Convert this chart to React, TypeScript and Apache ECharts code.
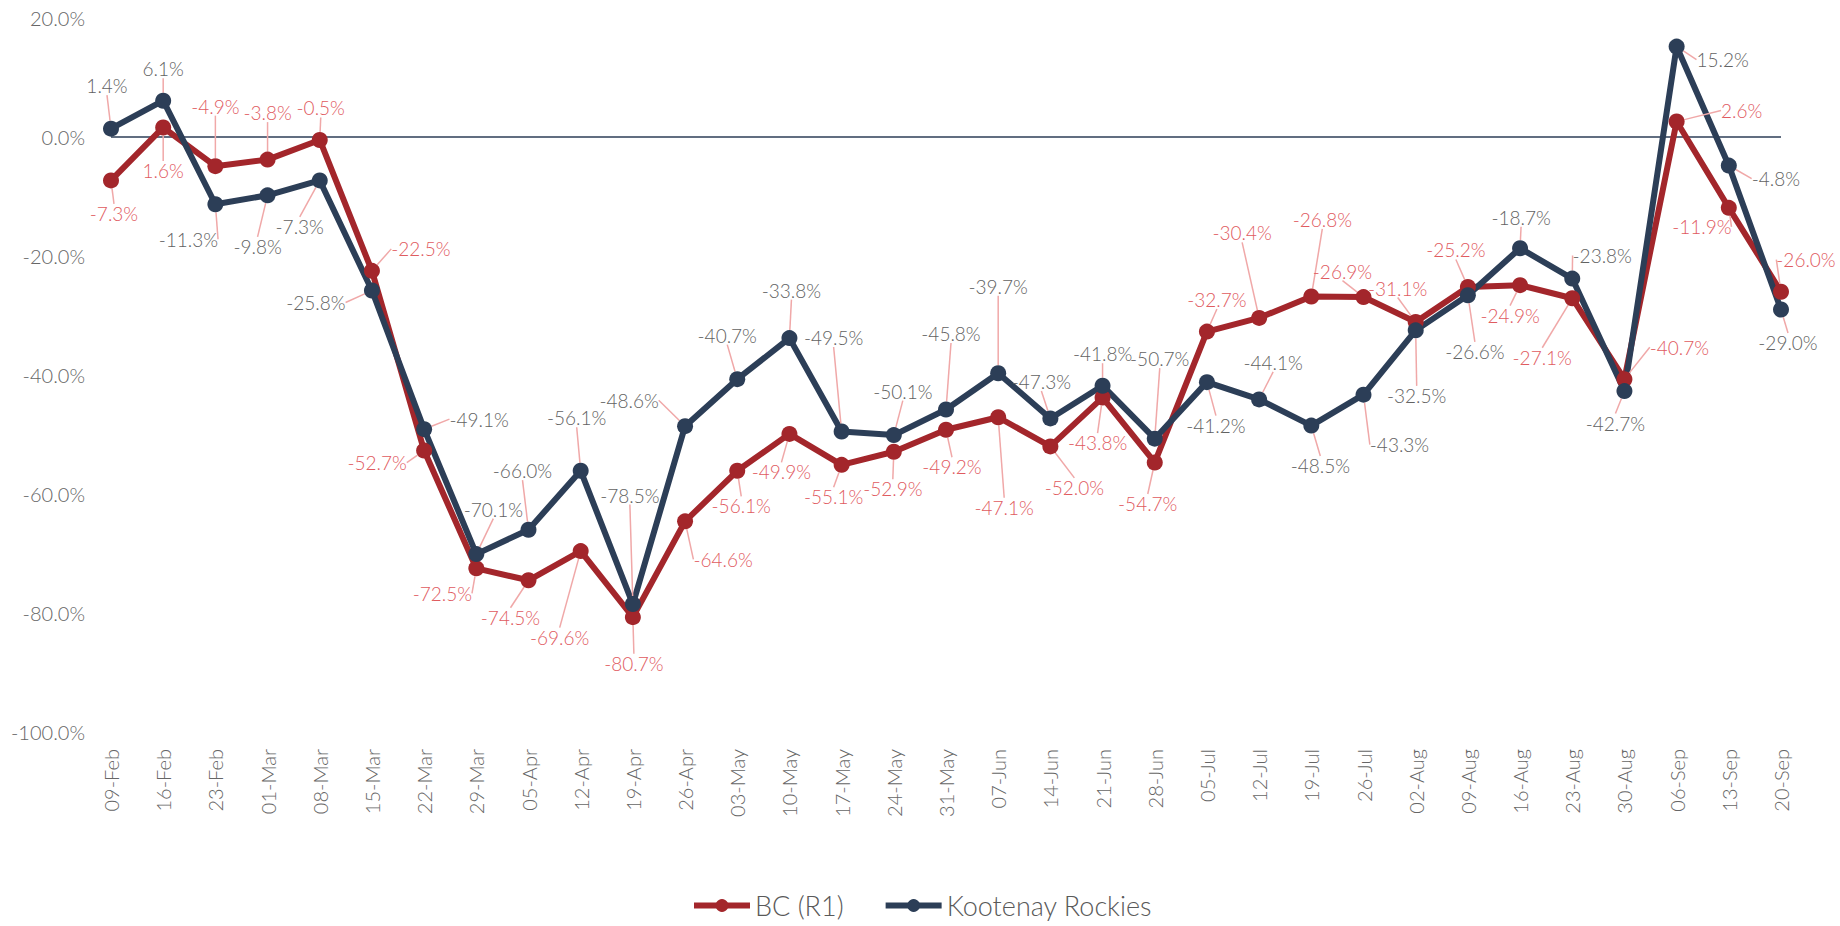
import React, { useEffect, useRef } from "react";
import * as echarts from "echarts";

const categories = [
  "09-Feb", "16-Feb", "23-Feb", "01-Mar", "08-Mar", "15-Mar", "22-Mar", "29-Mar",
  "05-Apr", "12-Apr", "19-Apr", "26-Apr", "03-May", "10-May", "17-May", "24-May",
  "31-May", "07-Jun", "14-Jun", "21-Jun", "28-Jun", "05-Jul", "12-Jul", "19-Jul",
  "26-Jul", "02-Aug", "09-Aug", "16-Aug", "23-Aug", "30-Aug", "06-Sep", "13-Sep", "20-Sep",
];

const bcValues = [
  -7.3, 1.6, -4.9, -3.8, -0.5, -22.5, -52.7, -72.5,
  -74.5, -69.6, -80.7, -64.6, -56.1, -49.9, -55.1, -52.9,
  -49.2, -47.1, -52.0, -43.8, -54.7, -32.7, -30.4, -26.8,
  -26.9, -31.1, -25.2, -24.9, -27.1, -40.7, 2.6, -11.9, -26.0,
];

const krValues = [
  1.4, 6.1, -11.3, -9.8, -7.3, -25.8, -49.1, -70.1,
  -66.0, -56.1, -78.5, -48.6, -40.7, -33.8, -49.5, -50.1,
  -45.8, -39.7, -47.3, -41.8, -50.7, -41.2, -44.1, -48.5,
  -43.3, -32.5, -26.6, -18.7, -23.8, -42.7, 15.2, -4.8, -29.0,
];

const yTicks = { min: -100, max: 20, interval: 20 };

// label placement (layout only): offset of label centre from its point, px
const bcLabelOffsets: [number, number][] = [
  [3, 33], [0, 43], [0, -60], [0, -47], [1, -32], [49, -22], [-47, 12], [-34, 25],
  [-18, 37], [-21, 86], [1, 46], [38, 38], [4, 35], [-8, 38], [-8, 32], [-1, 37],
  [6, 37], [6, 90], [24, 41], [-5, 45], [-7, 41], [10, -32], [-17, -85], [11, -77],
  [-21, -26], [-18, -34], [-12, -37], [-10, 30], [-30, 59], [55, -32], [65, -11], [-27, 19], [25, -32],
];

const krLabelOffsets: [number, number][] = [
  [-4, -43], [0, -32], [-27, 35], [-10, 51], [-20, 46], [-56, 12], [55, -10], [17, -45],
  [-6, -59], [-4, -53], [-3, -109], [-56, -26], [-10, -44], [2, -48], [-8, -94], [9, -44],
  [5, -76], [0, -87], [-9, -37], [0, -32], [5, -80], [9, 43], [14, -37], [9, 40],
  [36, 50], [1, 65], [7, 56], [1, -31], [30, -23], [-9, 32], [46, 13], [47, 13], [7, 33],
];

const RED = "#A3262B";
const NAVY = "#2C3E57";
const RED_TEXT = "#DF5B5F";
const GRAY_TEXT = "#626262";
const AXIS_TEXT = "#666666";
const LEADER = "#F0A8A8";
const FONT = "Lato, 'Open Sans', sans-serif";

export default function App() {
  const ref = useRef<HTMLDivElement>(null);

  useEffect(() => {
    if (!ref.current) return;
    const chart = echarts.init(ref.current, null, { renderer: "svg" });

    const pct = (v: number) => v.toFixed(1) + "%";

    const makeSeries = (
      name: string,
      values: number[],
      color: string,
      textColor: string,
      offsets: [number, number][],
      withZeroLine: boolean
    ) => ({
      name,
      type: "line",
      data: values,
      symbol: "circle",
      symbolSize: 16,
      lineStyle: { color, width: 6 },
      itemStyle: { color },
      label: {
        show: true,
        position: "inside",
        formatter: (p: any) => pct(p.value),
        color: textColor,
        fontFamily: FONT,
        fontWeight: 300,
        fontSize: 19,
      },
      labelLine: {
        show: true,
        lineStyle: { color: LEADER, width: 1.5 },
      },
      labelLayout: (params: any) => {
        const o = offsets[params.dataIndex] || [0, 0];
        return { dx: o[0], dy: o[1], hideOverlap: false };
      },
      markLine: withZeroLine
        ? {
            silent: true,
            symbol: "none",
            label: { show: false },
            lineStyle: { color: NAVY, width: 1.5, type: "solid" },
            data: [{ yAxis: 0 }],
            z: 1,
          }
        : undefined,
    });

    chart.setOption({
      animation: false,
      backgroundColor: "#ffffff",
      grid: { left: 111, right: 59, top: 18, bottom: 194, containLabel: false },
      legend: {
        data: ["BC (R1)", "Kootenay Rockies"],
        left: 686,
        top: 887,
        itemWidth: 56,
        itemHeight: 16,
        itemGap: 39,
        lineStyle: { width: 6 },
        textStyle: {
          color: "#595959",
          fontFamily: FONT,
          fontWeight: 300,
          fontSize: 27,
        },
      },
      xAxis: {
        type: "category",
        data: categories,
        boundaryGap: false,
        axisLine: { show: false },
        axisTick: { show: false },
        splitLine: { show: false },
        axisLabel: {
          rotate: 90,
          margin: 17,
          interval: 0,
          color: AXIS_TEXT,
          fontFamily: FONT,
          fontWeight: 300,
          fontSize: 20,
        },
      },
      yAxis: {
        type: "value",
        min: yTicks.min,
        max: yTicks.max,
        interval: yTicks.interval,
        axisLine: { show: false },
        axisTick: { show: false },
        splitLine: { show: false },
        axisLabel: {
          margin: 26,
          color: AXIS_TEXT,
          fontFamily: FONT,
          fontWeight: 300,
          fontSize: 20,
          formatter: (v: number) => pct(v),
        },
      },
      series: [
        makeSeries("BC (R1)", bcValues, RED, RED_TEXT, bcLabelOffsets, true),
        makeSeries("Kootenay Rockies", krValues, NAVY, GRAY_TEXT, krLabelOffsets, false),
      ],
    });

    return () => chart.dispose();
  }, []);

  return (
    <div
      ref={ref}
      style={{ position: "fixed", left: 0, top: 0, width: 1840, height: 926, background: "#fff" }}
    />
  );
}
